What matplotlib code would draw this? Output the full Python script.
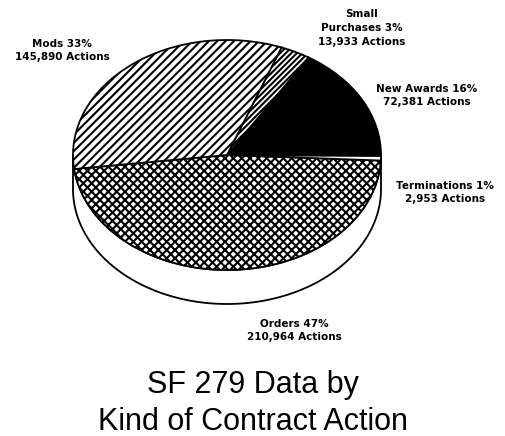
import matplotlib
matplotlib.use("Agg")
import matplotlib.pyplot as plt
from matplotlib.patches import Polygon
import numpy as np

# slices, counter-clockwise starting at the left edge
kinds = ["Orders", "Terminations", "New Awards", "Small\nPurchases", "Mods"]
actions = [210964, 2953, 72381, 13933, 145890]
percents = [47, 1, 16, 3, 33]
hatches = ["xxxx", "", "", "//////", "////"]
faces = ["white", "white", "black", "white", "white"]

# label anchor points in pixels (center x, center y of first line)
label_px = [(294, 323), (445, 185), (427, 88), (362, 13), (62, 43)]

W, H = 506, 436
plt.rcParams["hatch.linewidth"] = 1.5
fig = plt.figure(figsize=(W / 100, H / 100), dpi=100)

# pie axes: unit circle squashed into the ellipse (a=154px, b=115px), center (227,155)
a, b = 154.0, 115.0
cx, cy = 227.0, 155.0
x0, x1 = -1.2, 1.2
y0, y1 = -1.6, 1.2
left = cx + x0 * a
bottom = cy - y0 * b
ax = fig.add_axes([left / W, 1 - bottom / H, (x1 - x0) * a / W, (y1 - y0) * b / H])

wedges, _ = ax.pie(actions, startangle=187, counterclock=True, radius=1,
                   wedgeprops=dict(edgecolor="black", linewidth=1.3))
for w, h, fc in zip(wedges, hatches, faces):
    w.set_facecolor(fc)
    w.set_hatch(h)
    w.set_zorder(3)

# side wall of the 3D pie
depth = 34 / b
t = np.linspace(np.pi, 2 * np.pi, 200)
outer = np.column_stack([np.cos(t), np.sin(t) - depth])
inner = np.column_stack([np.cos(t[::-1]), np.sin(t[::-1])])
side = Polygon(np.vstack([outer, inner]), closed=True, facecolor="white",
               edgecolor="black", linewidth=1.3, zorder=2)
ax.add_patch(side)

ax.set_aspect("auto")
ax.set_xlim(x0, x1)
ax.set_ylim(y0, y1)
ax.axis("off")

for k, n, p, (lx, ly) in zip(kinds, actions, percents, label_px):
    txt = "%s %d%%\n%s Actions" % (k, p, format(n, ","))
    nlines = txt.count("\n") + 1
    yc = ly + (nlines - 1) * 15 / 2.0
    fig.text(lx / W, 1 - yc / H, txt, ha="center", va="center",
             fontsize=7.5, fontweight="bold", family="DejaVu Sans",
             linespacing=1.45)

fig.text(0.5, 1 - 385 / H, "SF 279 Data by", ha="center", va="center",
         fontsize=22, family="Liberation Sans")
fig.text(0.5, 1 - 422 / H, "Kind of Contract Action", ha="center", va="center",
         fontsize=22, family="Liberation Sans")

fig.savefig("out.png", dpi=100)
